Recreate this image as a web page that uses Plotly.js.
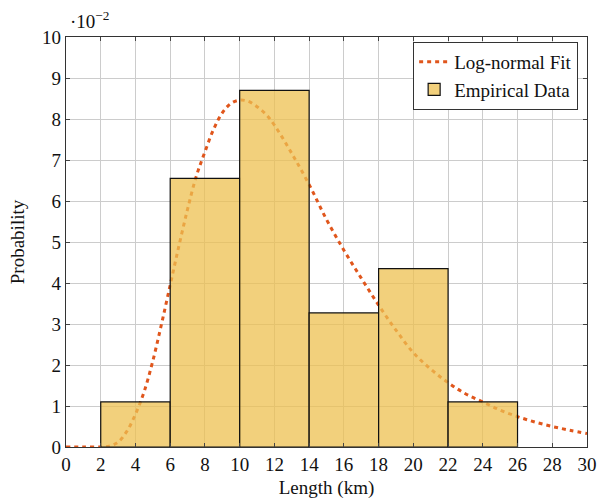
<!DOCTYPE html>
<html>
<head>
<meta charset="utf-8">
<script src="https://cdn.plot.ly/plotly-3.0.1.min.js"></script>
<style>html,body{margin:0;padding:0;background:#fff;}#chart{width:598px;height:503px;}</style>
</head>
<body>
<div id="chart"></div>
<script>
// Histogram bins (km) and probabilities (x 10^-2)
var binCenters = [4, 8, 12, 16, 20, 24];
var binWidths = [4, 4, 4, 4, 4, 4];
var binProb = [1.1, 6.55, 8.7, 3.27, 4.35, 1.1];

// Log-normal fit (x 10^-2)
var fitX = [0, 1, 2, 2.5, 3, 3.5, 4, 4.5, 5, 5.5, 6, 6.5, 7, 7.5, 8, 8.5, 9, 9.5, 10, 10.5, 11, 11.5, 12, 13, 14, 15, 16, 17, 18, 19, 20, 21, 22, 23, 24, 25, 26, 27, 28, 29, 30];
var fitY = [0, 0, 0, 0.02, 0.12, 0.38, 0.8, 1.35, 2.1, 3.0, 3.95, 4.9, 5.8, 6.6, 7.2, 7.75, 8.15, 8.38, 8.46, 8.43, 8.3, 8.12, 7.85, 7.16, 6.4, 5.55, 4.8, 4.12, 3.46, 2.85, 2.3, 1.9, 1.57, 1.3, 1.1, 0.9, 0.74, 0.61, 0.5, 0.41, 0.33];

var xTicks = [0,2,4,6,8,10,12,14,16,18,20,22,24,26,28,30];
var yTicks = [0,1,2,3,4,5,6,7,8,9,10];

var FONT = 'Liberation Serif, Times New Roman, serif';

var traces = [
  {
    type: 'scatter', mode: 'lines', name: 'Log-normal Fit',
    x: fitX, y: fitY, xaxis: 'x', yaxis: 'y',
    line: {color: '#e0561c', width: 3, dash: '4px,4px', shape: 'spline'}
  },
  {
    type: 'bar', name: 'Empirical Data',
    x: binCenters, y: binProb, width: binWidths, xaxis: 'x', yaxis: 'y2',
    marker: {color: 'rgba(238,192,80,0.75)', line: {color: '#111', width: 1.2}}
  }
];

var axisCommon = {
  showgrid: true, gridcolor: '#cccccc', gridwidth: 1,
  showline: true, linecolor: '#333', linewidth: 1.2, mirror: 'ticks',
  ticks: 'inside', ticklen: 4, tickcolor: '#444',
  zeroline: false,
  tickfont: {family: FONT, size: 19, color: '#111'}
};

var layout = {
  width: 598, height: 503,
  margin: {l: 66, r: 11, t: 37, b: 56},
  paper_bgcolor: '#fff', plot_bgcolor: '#fff',
  showlegend: true,
  xaxis: Object.assign({}, axisCommon, {
    range: [0, 30], tickvals: xTicks, ticktext: xTicks.map(String),
    title: {text: 'Length (km)', font: {family: FONT, size: 19, color: '#111'}, standoff: 6}
  }),
  yaxis: Object.assign({}, axisCommon, {
    range: [0, 10], tickvals: yTicks, ticktext: yTicks.map(String),
    title: {text: 'Probability', font: {family: FONT, size: 19, color: '#111'}, standoff: 12}
  }),
  yaxis2: {
    overlaying: 'y', range: [0, 10], visible: false, showgrid: false, zeroline: false
  },
  legend: {
    x: 0.983, y: 0.988, xanchor: 'right', yanchor: 'top',
    bgcolor: '#fff', bordercolor: '#333', borderwidth: 1,
    font: {family: FONT, size: 19, color: '#111'},
    tracegroupgap: 0, itemwidth: 30
  },
  annotations: [{
    xref: 'paper', yref: 'paper', x: 0.0, y: 1.0, xanchor: 'left', yanchor: 'bottom',
    yshift: 3, xshift: 2,
    text: '·10<sup>−2</sup>', showarrow: false,
    font: {family: FONT, size: 19, color: '#111'}
  }],
  bargap: 0
};

Plotly.newPlot('chart', traces, layout, {displayModeBar: false, staticPlot: true});
</script>
</body>
</html>
